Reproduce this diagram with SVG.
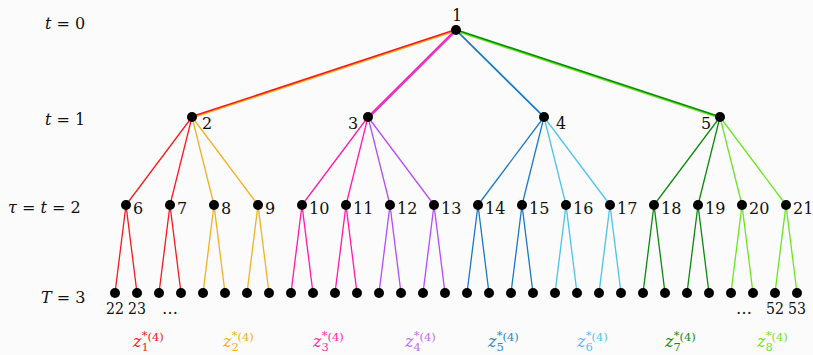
<svg xmlns="http://www.w3.org/2000/svg" width="813" height="355" viewBox="0 0 813 355">
<style>
.n{fill:#000}
.lb{font-family:"DejaVu Serif","Liberation Serif",serif;font-size:16px;fill:#111}
.it{font-style:italic}
.e{stroke-width:1.3;fill:none}
.r{stroke-width:1.6;fill:none}
.sm{font-size:11.5px}
.red{stroke:#f51a1a}.org{stroke:#f2b024}.pnk{stroke:#ff1aa8}.pur{stroke:#b54cf5}
.blu{stroke:#1a7ac4}.lbl{stroke:#4cc3ef}.dgr{stroke:#0b8a0b}.lgr{stroke:#6ae620}
</style>
<rect width="813" height="355" fill="#fbfbfb"/>
<g id="connectors">
<line class="r org" x1="456" y1="30.8" x2="192" y2="117.8"/>
<line class="r red" x1="456" y1="29.6" x2="192" y2="116.6"/>
<line class="r pur" x1="457" y1="30" x2="369.8" y2="117"/>
<line class="r pnk" x1="456" y1="29.2" x2="368.6" y2="116.4"/>
<line class="r lbl" x1="456.6" y1="30.8" x2="544.6" y2="117.8"/>
<line class="r blu" x1="456" y1="30" x2="544" y2="117"/>
<line class="r lgr" x1="456" y1="31" x2="720" y2="118"/>
<line class="r dgr" x1="456" y1="29.8" x2="720" y2="116.8"/>
<line class="e red" x1="192" y1="117" x2="126" y2="205"/>
<line class="e red" x1="192" y1="117" x2="170" y2="205"/>
<line class="e org" x1="192" y1="117" x2="214" y2="205"/>
<line class="e org" x1="192" y1="117" x2="258" y2="205"/>
<line class="e pnk" x1="368" y1="117" x2="302" y2="205"/>
<line class="e pnk" x1="368" y1="117" x2="346" y2="205"/>
<line class="e pur" x1="368" y1="117" x2="390" y2="205"/>
<line class="e pur" x1="368" y1="117" x2="434" y2="205"/>
<line class="e blu" x1="544" y1="117" x2="478" y2="205"/>
<line class="e blu" x1="544" y1="117" x2="522" y2="205"/>
<line class="e lbl" x1="544" y1="117" x2="566" y2="205"/>
<line class="e lbl" x1="544" y1="117" x2="610" y2="205"/>
<line class="e dgr" x1="720" y1="117" x2="654" y2="205"/>
<line class="e dgr" x1="720" y1="117" x2="698" y2="205"/>
<line class="e lgr" x1="720" y1="117" x2="742" y2="205"/>
<line class="e lgr" x1="720" y1="117" x2="786" y2="205"/>
<path class="e red" d="M126 205L115 293M126 205L137 293M170 205L159 293M170 205L181 293"/>
<path class="e org" d="M214 205L203 293M214 205L225 293M258 205L247 293M258 205L269 293"/>
<path class="e pnk" d="M302 205L291 293M302 205L313 293M346 205L335 293M346 205L357 293"/>
<path class="e pur" d="M390 205L379 293M390 205L401 293M434 205L423 293M434 205L445 293"/>
<path class="e blu" d="M478 205L467 293M478 205L489 293M522 205L511 293M522 205L533 293"/>
<path class="e lbl" d="M566 205L555 293M566 205L577 293M610 205L599 293M610 205L621 293"/>
<path class="e dgr" d="M654 205L643 293M654 205L665 293M698 205L687 293M698 205L709 293"/>
<path class="e lgr" d="M742 205L731 293M742 205L753 293M786 205L775 293M786 205L797 293"/>
</g>
<g id="levels" class="lb">
<text x="45" y="29"><tspan class="it">t</tspan> = 0</text>
<text x="45" y="125"><tspan class="it">t</tspan> = 1</text>
<text x="8" y="213"><tspan class="it">τ</tspan> = <tspan class="it">t</tspan> = 2</text>
<text x="41" y="303"><tspan class="it">T</tspan> = 3</text>
</g>
<g id="node1"><circle class="n" cx="456" cy="30" r="5"/><text class="lb" x="457" y="21" text-anchor="middle">1</text></g>
<g id="node2"><circle class="n" cx="192" cy="117" r="5"/><text class="lb" x="202" y="129">2</text></g>
<g id="node3"><circle class="n" cx="368" cy="117" r="5"/><text class="lb" x="348" y="129">3</text></g>
<g id="node4"><circle class="n" cx="544" cy="117" r="5"/><text class="lb" x="556" y="129">4</text></g>
<g id="node5"><circle class="n" cx="720" cy="117" r="5"/><text class="lb" x="701" y="129">5</text></g>
<g id="node6"><circle class="n" cx="126" cy="205" r="5"/><text class="lb" x="133" y="214">6</text></g>
<g id="node7"><circle class="n" cx="170" cy="205" r="5"/><text class="lb" x="177" y="214">7</text></g>
<g id="node8"><circle class="n" cx="214" cy="205" r="5"/><text class="lb" x="221" y="214">8</text></g>
<g id="node9"><circle class="n" cx="258" cy="205" r="5"/><text class="lb" x="265" y="214">9</text></g>
<g id="node10"><circle class="n" cx="302" cy="205" r="5"/><text class="lb" x="309" y="214">10</text></g>
<g id="node11"><circle class="n" cx="346" cy="205" r="5"/><text class="lb" x="353" y="214">11</text></g>
<g id="node12"><circle class="n" cx="390" cy="205" r="5"/><text class="lb" x="397" y="214">12</text></g>
<g id="node13"><circle class="n" cx="434" cy="205" r="5"/><text class="lb" x="441" y="214">13</text></g>
<g id="node14"><circle class="n" cx="478" cy="205" r="5"/><text class="lb" x="485" y="214">14</text></g>
<g id="node15"><circle class="n" cx="522" cy="205" r="5"/><text class="lb" x="529" y="214">15</text></g>
<g id="node16"><circle class="n" cx="566" cy="205" r="5"/><text class="lb" x="573" y="214">16</text></g>
<g id="node17"><circle class="n" cx="610" cy="205" r="5"/><text class="lb" x="617" y="214">17</text></g>
<g id="node18"><circle class="n" cx="654" cy="205" r="5"/><text class="lb" x="661" y="214">18</text></g>
<g id="node19"><circle class="n" cx="698" cy="205" r="5"/><text class="lb" x="705" y="214">19</text></g>
<g id="node20"><circle class="n" cx="742" cy="205" r="5"/><text class="lb" x="749" y="214">20</text></g>
<g id="node21"><circle class="n" cx="786" cy="205" r="5"/><text class="lb" x="793" y="214">21</text></g>
<g id="leaves">
<circle class="n" cx="115" cy="293" r="5"/><circle class="n" cx="137" cy="293" r="5"/><circle class="n" cx="159" cy="293" r="5"/><circle class="n" cx="181" cy="293" r="5"/>
<circle class="n" cx="203" cy="293" r="5"/><circle class="n" cx="225" cy="293" r="5"/><circle class="n" cx="247" cy="293" r="5"/><circle class="n" cx="269" cy="293" r="5"/>
<circle class="n" cx="291" cy="293" r="5"/><circle class="n" cx="313" cy="293" r="5"/><circle class="n" cx="335" cy="293" r="5"/><circle class="n" cx="357" cy="293" r="5"/>
<circle class="n" cx="379" cy="293" r="5"/><circle class="n" cx="401" cy="293" r="5"/><circle class="n" cx="423" cy="293" r="5"/><circle class="n" cx="445" cy="293" r="5"/>
<circle class="n" cx="467" cy="293" r="5"/><circle class="n" cx="489" cy="293" r="5"/><circle class="n" cx="511" cy="293" r="5"/><circle class="n" cx="533" cy="293" r="5"/>
<circle class="n" cx="555" cy="293" r="5"/><circle class="n" cx="577" cy="293" r="5"/><circle class="n" cx="599" cy="293" r="5"/><circle class="n" cx="621" cy="293" r="5"/>
<circle class="n" cx="643" cy="293" r="5"/><circle class="n" cx="665" cy="293" r="5"/><circle class="n" cx="687" cy="293" r="5"/><circle class="n" cx="709" cy="293" r="5"/>
<circle class="n" cx="731" cy="293" r="5"/><circle class="n" cx="753" cy="293" r="5"/><circle class="n" cx="775" cy="293" r="5"/><circle class="n" cx="797" cy="293" r="5"/>
<g class="lb" text-anchor="middle">
<text x="115" y="314" textLength="18" lengthAdjust="spacingAndGlyphs">22</text><text x="137" y="314" textLength="18" lengthAdjust="spacingAndGlyphs">23</text><text x="170" y="314">…</text>
<text x="744" y="314">…</text><text x="775" y="314" textLength="18" lengthAdjust="spacingAndGlyphs">52</text><text x="797" y="314" textLength="18" lengthAdjust="spacingAndGlyphs">53</text>
</g>
</g>
<g id="zlabels" class="lb">
<text x="133" y="347" fill="#f51a1a"><tspan class="it">z</tspan><tspan class="sm" dy="4">1</tspan><tspan class="sm" dx="-7" dy="-12">*</tspan><tspan class="sm" dy="2">(4)</tspan></text>
<text x="223" y="347" fill="#f2b024"><tspan class="it">z</tspan><tspan class="sm" dy="4">2</tspan><tspan class="sm" dx="-7" dy="-12">*</tspan><tspan class="sm" dy="2">(4)</tspan></text>
<text x="313" y="347" fill="#ff2aa8"><tspan class="it">z</tspan><tspan class="sm" dy="4">3</tspan><tspan class="sm" dx="-7" dy="-12">*</tspan><tspan class="sm" dy="2">(4)</tspan></text>
<text x="405" y="347" fill="#c06ef2"><tspan class="it">z</tspan><tspan class="sm" dy="4">4</tspan><tspan class="sm" dx="-7" dy="-12">*</tspan><tspan class="sm" dy="2">(4)</tspan></text>
<text x="488" y="347" fill="#2f86c8"><tspan class="it">z</tspan><tspan class="sm" dy="4">5</tspan><tspan class="sm" dx="-7" dy="-12">*</tspan><tspan class="sm" dy="2">(4)</tspan></text>
<text x="577" y="347" fill="#55c2ef"><tspan class="it">z</tspan><tspan class="sm" dy="4">6</tspan><tspan class="sm" dx="-7" dy="-12">*</tspan><tspan class="sm" dy="2">(4)</tspan></text>
<text x="665" y="347" fill="#178a17"><tspan class="it">z</tspan><tspan class="sm" dy="4">7</tspan><tspan class="sm" dx="-7" dy="-12">*</tspan><tspan class="sm" dy="2">(4)</tspan></text>
<text x="757" y="347" fill="#74e030"><tspan class="it">z</tspan><tspan class="sm" dy="4">8</tspan><tspan class="sm" dx="-7" dy="-12">*</tspan><tspan class="sm" dy="2">(4)</tspan></text>
</g>
</svg>
